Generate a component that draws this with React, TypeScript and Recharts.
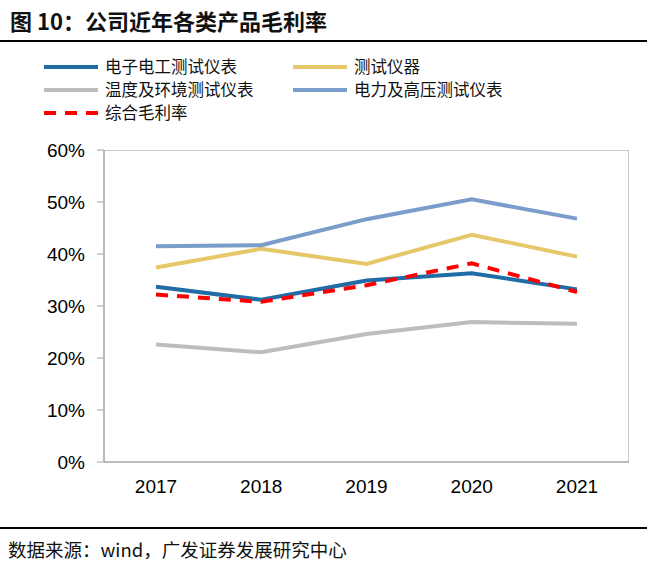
import React from "react";
import { LineChart, Line, XAxis, YAxis } from "recharts";

const years = ["2017", "2018", "2019", "2020", "2021"];
const electronic = [33.7, 31.2, 34.9, 36.3, 33.2]; // 电子电工测试仪表
const instruments = [37.4, 41.0, 38.1, 43.7, 39.5]; // 测试仪器
const temperature = [22.6, 21.1, 24.6, 26.9, 26.6]; // 温度及环境测试仪表
const power = [41.5, 41.7, 46.7, 50.5, 46.8]; // 电力及高压测试仪表
const overall = [32.2, 30.8, 34.0, 38.2, 32.7]; // 综合毛利率
const yTicks = [0, 10, 20, 30, 40, 50, 60];

const data = years.map((year, i) => ({
    year,
    electronic: electronic[i],
    instruments: instruments[i],
    temperature: temperature[i],
    power: power[i],
    overall: overall[i],
}));

const legendItems = [
    { name: "电子电工测试仪表", color: "#1F6CA6", dashed: false, x: 44, y: 67 },
    { name: "测试仪器", color: "#E6C86A", dashed: false, x: 293, y: 67 },
    { name: "温度及环境测试仪表", color: "#BDBDBD", dashed: false, x: 44, y: 90 },
    { name: "电力及高压测试仪表", color: "#7B9DCB", dashed: false, x: 293, y: 90 },
    { name: "综合毛利率", color: "#FF0000", dashed: true, x: 44, y: 113 },
];

const cjk = '"Noto Sans CJK SC", "Liberation Sans", sans-serif';
const num = '"Liberation Sans", Arial, sans-serif';

export default function App() {
    return (
        <div style={{ position: "absolute", left: 0, top: 0, width: 647, height: 568, background: "#fff", overflow: "hidden" }}>
            <div style={{ position: "absolute", left: 10, top: 4, fontFamily: cjk, fontWeight: 700, fontSize: 22, lineHeight: "32px", color: "#111" }}>
                图 10：公司近年各类产品毛利率
            </div>
            <div style={{ position: "absolute", left: 0, top: 40, width: 647, height: 2, background: "#000" }} />

            <svg style={{ position: "absolute", left: 0, top: 0 }} width={647} height={140}>
                {legendItems.map((item) => (
                    <g key={item.name}>
                        <line
                            x1={item.x}
                            x2={item.x + 54}
                            y1={item.y}
                            y2={item.y}
                            stroke={item.color}
                            strokeWidth={4}
                            strokeDasharray={item.dashed ? "12 9" : undefined}
                        />
                        <text x={item.x + 61} y={item.y} dy="0.35em" fontFamily={cjk} fontSize={16.5} fill="#111">
                            {item.name}
                        </text>
                    </g>
                ))}
            </svg>

            {/* plot frame: top and right edges */}
            <div style={{ position: "absolute", left: 104, top: 150, width: 525, height: 312, borderTop: "1.5px solid #C8C8C8", borderRight: "1.5px solid #C8C8C8", boxSizing: "border-box" }} />

            <div style={{ position: "absolute", left: 0, top: 0 }}>
                <LineChart width={647} height={568} data={data} margin={{ top: 150, right: 18, bottom: 76, left: 44 }}>
                    <XAxis
                        dataKey="year"
                        height={30}
                        padding={{ left: 52, right: 52 }}
                        axisLine={{ stroke: "#A6A6A6", strokeWidth: 1.5 }}
                        tickLine={false}
                        tickSize={0}
                        tickMargin={18}
                        tick={{ fill: "#000", fontSize: 19, fontFamily: num }}
                    />
                    <YAxis
                        domain={[0, 60]}
                        ticks={yTicks}
                        width={60}
                        axisLine={{ stroke: "#A6A6A6", strokeWidth: 1.5 }}
                        tickLine={{ stroke: "#A6A6A6" }}
                        tickSize={7}
                        tickMargin={12}
                        tickFormatter={(v) => `${v}%`}
                        tick={{ fill: "#000", fontSize: 19, fontFamily: num }}
                    />
                    <Line dataKey="electronic" stroke="#1F6CA6" strokeWidth={4} dot={false} isAnimationActive={false} />
                    <Line dataKey="instruments" stroke="#E6C86A" strokeWidth={4} dot={false} isAnimationActive={false} />
                    <Line dataKey="temperature" stroke="#BDBDBD" strokeWidth={4} dot={false} isAnimationActive={false} />
                    <Line dataKey="power" stroke="#7B9DCB" strokeWidth={4} dot={false} isAnimationActive={false} />
                    <Line dataKey="overall" stroke="#FF0000" strokeWidth={4} strokeDasharray="12 9" dot={false} isAnimationActive={false} />
                </LineChart>
            </div>

            <div style={{ position: "absolute", left: 0, top: 527, width: 647, height: 2, background: "#000" }} />
            <div style={{ position: "absolute", left: 8, top: 535, fontFamily: cjk, fontSize: 18.5, lineHeight: "28px", color: "#111" }}>
                数据来源：wind，广发证券发展研究中心
            </div>
        </div>
    );
}
